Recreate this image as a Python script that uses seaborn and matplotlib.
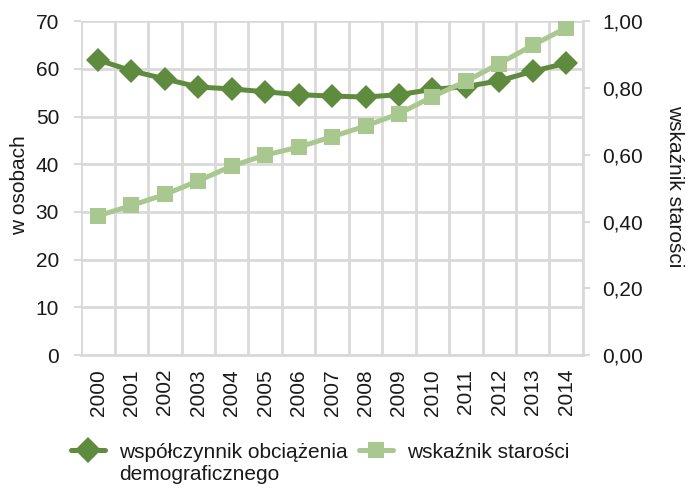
import numpy as np
import pandas as pd
import matplotlib
matplotlib.use("Agg")
import matplotlib.pyplot as plt
import seaborn as sns
from matplotlib.lines import Line2D

years = ["2000", "2001", "2002", "2003", "2004", "2005", "2006", "2007",
         "2008", "2009", "2010", "2011", "2012", "2013", "2014"]
wspolczynnik = [61.9, 59.6, 57.9, 56.2, 55.8, 55.2, 54.6, 54.3,
                54.1, 54.6, 55.7, 56.3, 57.5, 59.5, 61.2]
wskaznik = [0.417, 0.448, 0.481, 0.522, 0.566, 0.599, 0.623, 0.654,
            0.686, 0.723, 0.774, 0.820, 0.873, 0.928, 0.980]
left_ticks = [0, 10, 20, 30, 40, 50, 60, 70]
right_ticks = [0.0, 0.2, 0.4, 0.6, 0.8, 1.0]
name1_line1 = "współczynnik obciążenia"
name1_line2 = "demograficznego"
name2 = "wskaźnik starości"
ylabel_left = "w osobach"
ylabel_right = "wskaźnik starości"

sns.set_theme(style="white")
plt.rcParams['font.family'] = ['Liberation Sans', 'DejaVu Sans']

dark = "#5F8B3F"
light = "#A9C88F"
grid = "#D9D9D9"
txt = "#1a1a1a"
fs = 15
W, H = 689, 488

df = pd.DataFrame({"pos": np.arange(len(years)), "w1": wspolczynnik, "w2": wskaznik})

fig = plt.figure(figsize=(W / 100, H / 100), dpi=100)
ax = fig.add_axes([0.118, 0.2725, 0.728, 0.684])
ax2 = ax.twinx()

sns.lineplot(data=df, x="pos", y="w1", ax=ax, color=dark, linewidth=3.6,
             marker="D", markersize=12, markeredgewidth=0, zorder=3)
sns.lineplot(data=df, x="pos", y="w2", ax=ax2, color=light, linewidth=3.6,
             marker="s", markersize=11, markeredgewidth=0, zorder=3)

ax.set_xlim(-0.5, len(years) - 0.5)
ax.set_ylim(0, 70)
ax2.set_ylim(0, 1)
ax.set_yticks(left_ticks)
ax.set_yticklabels([str(t) for t in left_ticks], fontsize=fs, color=txt)
ax2.set_yticks(right_ticks)
ax2.set_yticklabels([f"{t:.2f}".replace(".", ",") for t in right_ticks], fontsize=fs, color=txt)

ax.set_xticks(np.arange(len(years)))
ax.set_xticklabels(years, rotation=90, fontsize=fs, color=txt)
ax.set_xticks(np.arange(-0.5, len(years), 1), minor=True)
ax.tick_params(axis="x", which="major", length=0, pad=10)
ax.tick_params(axis="x", which="minor", length=5.5, color=grid, width=1.5, direction="out")
ax.tick_params(axis="y", length=5, color=grid, width=1.5, direction="out", pad=11)
ax2.tick_params(axis="y", length=5, color=grid, width=1.5, direction="out", pad=9)

ax.grid(True, which="major", axis="y", color=grid, linewidth=2)
ax.grid(True, which="minor", axis="x", color=grid, linewidth=2)
ax.set_axisbelow(True)

for a in (ax, ax2):
    for s in a.spines.values():
        s.set_visible(False)
ax2.spines["right"].set_visible(True)
ax2.spines["right"].set_color(grid)
ax2.spines["right"].set_linewidth(2)
ax.spines["bottom"].set_visible(True)
ax.spines["bottom"].set_color(grid)
ax.spines["bottom"].set_linewidth(2)

ax.set_xlabel("")
ax_left_px = 0.118 * W
ax_w_px = 0.728 * W
ax.set_ylabel(ylabel_left, fontsize=fs, color=txt, rotation=90,
              ha="center", va="center", rotation_mode="anchor")
ax.yaxis.set_label_coords((20 - ax_left_px) / ax_w_px, 0.51)
ax2.set_ylabel(ylabel_right, fontsize=fs, color=txt, rotation=270,
               ha="center", va="center", rotation_mode="anchor")
ax2.yaxis.set_label_coords((675 - ax_left_px) / ax_w_px, 0.505)

h1 = Line2D([], [], color=dark, linewidth=3.6, marker="D", markersize=13, markeredgewidth=0)
h2 = Line2D([], [], color=light, linewidth=3.6, marker="s", markersize=12, markeredgewidth=0)
leg = fig.legend([h1, h2], [name1_line1, name2], loc="center left",
                 bbox_to_anchor=(71 / W, 1 - 452 / H),
                 ncol=2, frameon=False, fontsize=fs, handlelength=1.65,
                 columnspacing=0.55, handletextpad=0.65, borderaxespad=0, borderpad=0)
for t in leg.get_texts():
    t.set_color(txt)

fig.canvas.draw()
bb = leg.get_texts()[0].get_window_extent()
fig.text(bb.x0 / W, (bb.y0 + bb.y1) / 2 / H - 23 / H, name1_line2,
         fontsize=fs, color=txt, ha="left", va="center")

fig.savefig("out.png", dpi=100)
